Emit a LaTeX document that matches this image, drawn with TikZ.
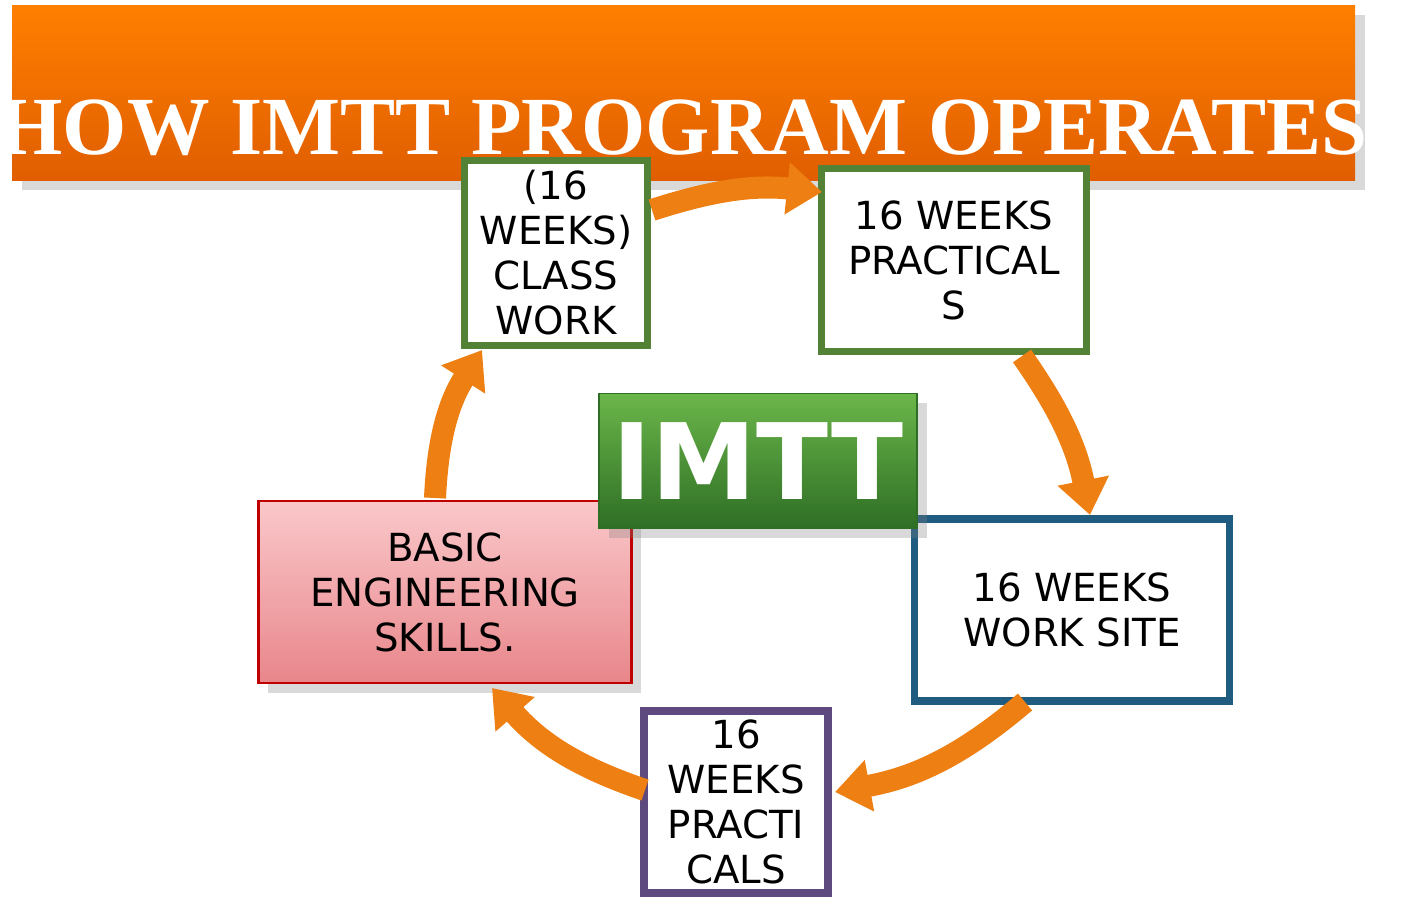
\documentclass[tikz,border=0pt]{standalone}
\usepackage{fontspec}
\setmainfont{DejaVu Sans}
\newfontfamily\titlefont{Liberation Serif}
\usetikzlibrary{arrows.meta, positioning, shadows}
\definecolor{bannerA}{HTML}{FF7F00}
\definecolor{bannerB}{HTML}{E05E00}
\definecolor{flow}{HTML}{EE7F12}
\definecolor{boxgreen}{HTML}{538135}
\definecolor{boxblue}{HTML}{1F5C7F}
\definecolor{boxpurple}{HTML}{5E4A7E}
\definecolor{boxred}{HTML}{C00000}
\definecolor{pinkA}{HTML}{FAC8CA}
\definecolor{pinkB}{HTML}{E8868B}
\definecolor{imttA}{HTML}{6BB64A}
\definecolor{imttB}{HTML}{2E6E25}
\tikzset{
    stage/.style={rectangle, draw, line width=2.2pt, fill=white, align=center, font=\fontsize{11}{12.8}\selectfont, inner sep=0pt},
    flowarrow/.style={draw=flow, line width=0.22cm, -{Triangle[width=0.5cm, length=0.35cm]}}
}
\begin{document}
\begin{tikzpicture}[x=0.01cm, y=-0.01cm]
    \useasboundingbox (0,0) rectangle (1416,920);
    % banner
    \shade[top color=bannerA, bottom color=bannerB, drop shadow={opacity=0.3}] (12,5) rectangle (1355,180);
    \node[text=white, font=\titlefont\bfseries\fontsize{23.5}{26}\selectfont] (title) at (683,128) {HOW IMTT PROGRAM OPERATES};

    % stages
    \node[stage, draw=boxgreen, minimum width=1.83cm, minimum height=1.85cm] (class) at (556,253) {(16\\WEEKS)\\CLASS\\WORK};
    \node[stage, draw=boxgreen, minimum width=2.65cm, minimum height=1.83cm] (prac) at (954,260) {16 WEEKS\\PRACTICAL\\S};
    \node[stage, draw=boxblue, minimum width=3.15cm, minimum height=1.82cm] (site) at (1072,610) {16 WEEKS\\WORK SITE};
    \node[stage, draw=boxpurple, minimum width=1.84cm, minimum height=1.82cm] (pract) at (736,802) {16\\WEEKS\\PRACTI\\CALS};
    \node[stage, draw=boxred, line width=0.8pt, top color=pinkA, bottom color=pinkB, drop shadow={opacity=0.3}, minimum width=3.73cm, minimum height=1.82cm] (basic) at (445,592) {BASIC\\ENGINEERING\\SKILLS.};
    \node[rectangle, draw=imttB, top color=imttA, bottom color=imttB, drop shadow={opacity=0.3}, minimum width=3.18cm, minimum height=1.35cm, text=white, font=\bfseries\fontsize{30}{32}\selectfont] (imtt) at (758,461) {IMTT};

    % flow
    \coordinate (a1) at (652,210); \coordinate (b1) at (822,192);
    \coordinate (a2) at (1022,356); \coordinate (b2) at (1090,515);
    \coordinate (a3) at (1025,702); \coordinate (b3) at (835,792);
    \coordinate (a4) at (645,790); \coordinate (b4) at (492,688);
    \coordinate (a5) at (435,498); \coordinate (b5) at (482,350);
    \draw[flowarrow] (a1) to[bend left=12] (b1);
    \draw[flowarrow] (a2) to[bend left=12] (b2);
    \draw[flowarrow] (a3) to[bend left=15] (b3);
    \draw[flowarrow] (a4) to[bend left=15] (b4);
    \draw[flowarrow] (a5) to[bend left=15] (b5);
\end{tikzpicture}
\end{document}
